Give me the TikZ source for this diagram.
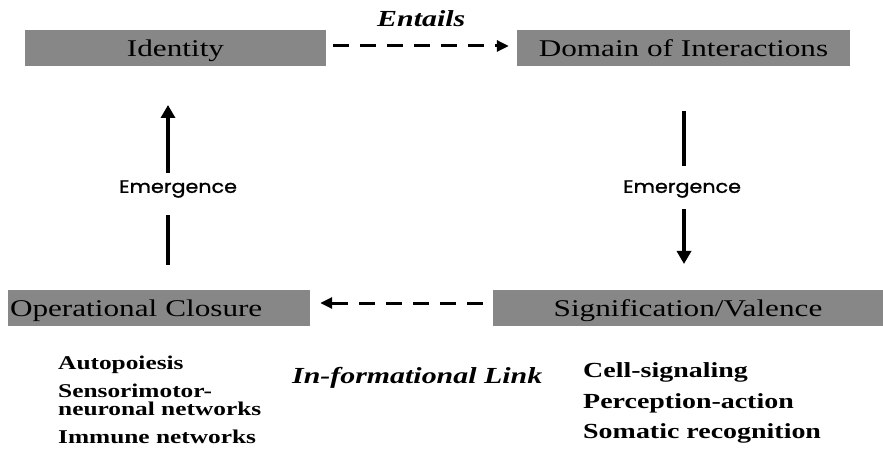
\documentclass[tikz,border=0pt]{standalone}
\usepackage{fontspec}
\setmainfont{Liberation Serif}
\newfontfamily\wideserif{Liberation Serif}[FakeStretch=1.3]
\newfontfamily\emfont{Poppins}[FakeStretch=1.15,FakeBold=1.2]
\usetikzlibrary{arrows.meta}
\definecolor{boxgray}{RGB}{135,135,135}
\tikzset{
  graybox/.style={fill=boxgray, draw=none, minimum height=36pt, inner sep=0pt,
    text depth=0pt, font=\wideserif\fontsize{24}{28}\selectfont},
  dasharrow/.style={line width=3pt, dash pattern=on 16pt off 11pt,
    -{Triangle[length=12pt,width=11pt]}},
  solidline/.style={line width=3.5pt},
  solidarrow/.style={line width=3.5pt, -{Triangle[length=13pt,width=14pt]}},
  emlabel/.style={font=\emfont\fontsize{18}{21}\selectfont, inner sep=0pt},
  italabel/.style={font=\wideserif\bfseries\itshape\fontsize{23}{27}\selectfont, inner sep=0pt, anchor=base west},
  listleft/.style={font=\wideserif\bfseries\fontsize{19.5}{18}\selectfont, inner sep=0pt, anchor=base west, align=left},
  listright/.style={font=\wideserif\bfseries\fontsize{21.5}{24}\selectfont, inner sep=0pt, anchor=base west}
}
\begin{document}
\begin{tikzpicture}[x=1pt,y=-1pt]
\useasboundingbox (0,0) rectangle (883,454);
% boxes
\node[graybox, minimum width=301pt] (id) at (175.5,48) {Identity};
\node[graybox, minimum width=333pt] (dom) at (683.5,48) {Domain of Interactions};
\node[graybox, minimum width=302pt, text width=298pt, inner xsep=2pt, align=left] (opc) at (159,308) {Operational Closure};
\node[graybox, minimum width=390pt] (sig) at (688,308) {Signification/Valence};
% labels
\node[italabel] (ent) at (377,27) {Entails};
\node[italabel] (inf) at (292,383) {In-formational Link};
% dashed connectors
\draw[dasharrow, shorten <=7pt, shorten >=8pt] ([yshift=2pt]id.east) -- ([yshift=2pt]dom.west);
\draw[dasharrow, shorten <=10pt, shorten >=10pt] ([yshift=5pt]sig.west) -- ([yshift=5pt]opc.east);
% emergence left
\node[emlabel] (emL) at (178,189) {Emergence};
\coordinate (l0) at (168,265);
\coordinate (l1) at (168,215);
\coordinate (l2) at (168,173);
\coordinate (l3) at (168,105);
\draw[solidline] (l0) -- (l1);
\draw[solidarrow] (l2) -- (l3);
% emergence right
\node[emlabel] (emR) at (682,189) {Emergence};
\coordinate (r0) at (684,111);
\coordinate (r1) at (684,166);
\coordinate (r2) at (684,209);
\coordinate (r3) at (684,264);
\draw[solidline] (r0) -- (r1);
\draw[solidarrow] (r2) -- (r3);
% lists
\node[listleft] (a1) at (58,369) {Autopoiesis};
\node[listleft] (a2) at (58,415) {Sensorimotor-\\neuronal networks};
\node[listleft] (a4) at (58,443) {Immune networks};
\node[listright] (b1) at (583,377) {Cell-signaling};
\node[listright] (b2) at (583,408) {Perception-action};
\node[listright] (b3) at (583,438) {Somatic recognition};
\end{tikzpicture}
\end{document}
